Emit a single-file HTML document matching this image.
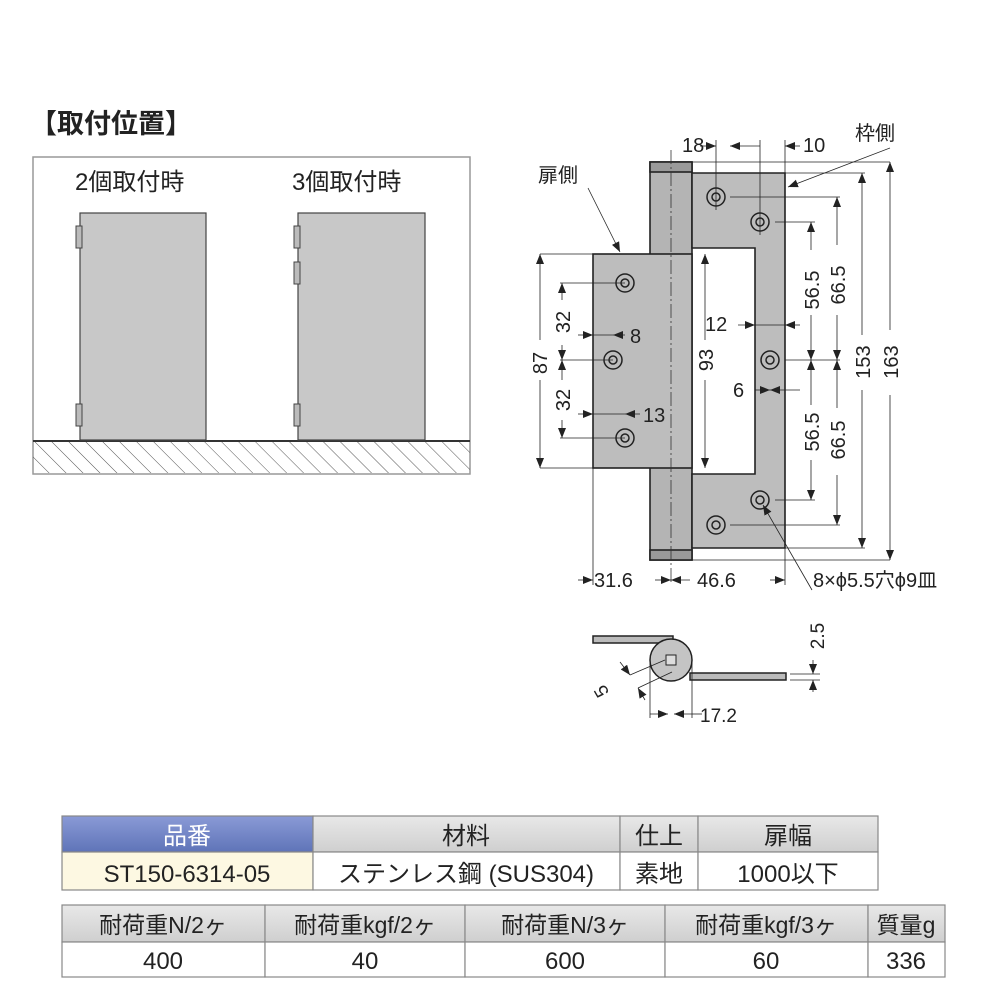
<!DOCTYPE html>
<html><head><meta charset="utf-8"><style>
body{margin:0;background:#fff;width:1000px;height:1000px;overflow:hidden}
svg{position:absolute;left:0;top:0}
text{font-family:"Liberation Sans","Noto Sans CJK JP",sans-serif;fill:#222}
</style></head><body>
<svg width="1000" height="1000" viewBox="0 0 1000 1000">
<defs>
<marker id="a" markerWidth="10" markerHeight="8" refX="10" refY="4" orient="auto-start-reverse" markerUnits="userSpaceOnUse"><path d="M0,0L10,4L0,8z" fill="#222"/></marker>
<pattern id="h" width="12" height="12" patternUnits="userSpaceOnUse" patternTransform="rotate(-45)"><line x1="0" y1="0" x2="0" y2="12" stroke="#555" stroke-width="1"/></pattern>
<linearGradient id="hd" x1="0" y1="0" x2="0" y2="1"><stop offset="0" stop-color="#e8e8e8"/><stop offset="1" stop-color="#cfcfcf"/></linearGradient>
<linearGradient id="bl" x1="0" y1="0" x2="0" y2="1"><stop offset="0" stop-color="#8a9ad6"/><stop offset="1" stop-color="#5f74b8"/></linearGradient>
</defs>
<text x="30" y="133" font-size="27" font-weight="bold">【取付位置】</text>
<rect x="33" y="157" width="437" height="317" fill="none" stroke="#999" stroke-width="1.5"/>
<rect x="33" y="441" width="437" height="32" fill="url(#h)"/>
<line x1="33" y1="441" x2="470" y2="441" stroke="#333" stroke-width="2"/>
<text x="75" y="190" font-size="24">2個取付時</text>
<text x="292" y="190" font-size="24">3個取付時</text>
<rect x="80" y="213" width="126" height="227" fill="#c8c8c8" stroke="#444" stroke-width="1.2"/>
<rect x="76" y="226" width="6" height="22" fill="#bbb" stroke="#444"/>
<rect x="76" y="404" width="6" height="22" fill="#bbb" stroke="#444"/>
<rect x="298" y="213" width="127" height="227" fill="#c8c8c8" stroke="#444" stroke-width="1.2"/>
<rect x="294" y="226" width="6" height="22" fill="#bbb" stroke="#444"/>
<rect x="294" y="262" width="6" height="22" fill="#bbb" stroke="#444"/>
<rect x="294" y="404" width="6" height="22" fill="#bbb" stroke="#444"/>
<g stroke="#222" stroke-width="1.6">
<rect x="650" y="162" width="42" height="398" fill="#b4b4b4"/>
<rect x="650" y="162" width="42" height="10" fill="#9a9a9a"/>
<rect x="650" y="550" width="42" height="10" fill="#9a9a9a"/>
<path d="M692,173H785V548H692V474H755V248H692Z" fill="#bdbdbd"/>
<rect x="593" y="254" width="99" height="214" fill="#bdbdbd"/>
</g>
<line x1="671" y1="150" x2="671" y2="585" stroke="#333" stroke-width="0.8" stroke-dasharray="14,3,2,3"/>
<g fill="#bdbdbd" stroke="#222" stroke-width="1.5">
<circle cx="716" cy="197" r="9"/><circle cx="716" cy="197" r="4"/>
<circle cx="760" cy="222" r="9"/><circle cx="760" cy="222" r="4"/>
<circle cx="770" cy="360" r="9"/><circle cx="770" cy="360" r="4"/>
<circle cx="760" cy="500" r="9"/><circle cx="760" cy="500" r="4"/>
<circle cx="716" cy="525" r="9"/><circle cx="716" cy="525" r="4"/>
<circle cx="625" cy="283" r="9"/><circle cx="625" cy="283" r="4"/>
<circle cx="613" cy="360" r="9"/><circle cx="613" cy="360" r="4"/>
<circle cx="625" cy="438" r="9"/><circle cx="625" cy="438" r="4"/>
</g>
<g stroke="#222" stroke-width="0.8" fill="none">
<line x1="716" y1="140" x2="716" y2="210"/><line x1="760" y1="140" x2="760" y2="235"/><line x1="785" y1="140" x2="785" y2="173"/>
<line x1="692" y1="162" x2="890" y2="162"/><line x1="785" y1="173" x2="865" y2="173"/>
<line x1="730" y1="197" x2="840" y2="197"/><line x1="775" y1="222" x2="815" y2="222"/>
<line x1="785" y1="360" x2="840" y2="360"/>
<line x1="775" y1="500" x2="815" y2="500"/><line x1="730" y1="525" x2="840" y2="525"/>
<line x1="785" y1="548" x2="865" y2="548"/><line x1="692" y1="560" x2="890" y2="560"/>
<line x1="540" y1="254" x2="593" y2="254"/><line x1="540" y1="468" x2="593" y2="468"/>
<line x1="560" y1="283" x2="625" y2="283"/><line x1="560" y1="360" x2="613" y2="360"/><line x1="560" y1="438" x2="625" y2="438"/>
<line x1="593" y1="468" x2="593" y2="585"/><line x1="785" y1="548" x2="785" y2="585"/>
<line x1="700" y1="146" x2="716" y2="146" marker-end="url(#a)"/><line x1="730" y1="146" x2="760" y2="146" marker-start="url(#a)"/>
<line x1="800" y1="146" x2="785" y2="146" marker-end="url(#a)"/>
<line x1="890" y1="162" x2="890" y2="330" marker-start="url(#a)"/><line x1="890" y1="395" x2="890" y2="560" marker-end="url(#a)"/>
<line x1="862" y1="173" x2="862" y2="335" marker-start="url(#a)"/><line x1="862" y1="390" x2="862" y2="548" marker-end="url(#a)"/>
<line x1="837" y1="197" x2="837" y2="245" marker-start="url(#a)"/><line x1="837" y1="315" x2="837" y2="360" marker-end="url(#a)"/>
<line x1="837" y1="360" x2="837" y2="408" marker-start="url(#a)"/><line x1="837" y1="475" x2="837" y2="525" marker-end="url(#a)"/>
<line x1="811" y1="222" x2="811" y2="250" marker-start="url(#a)"/><line x1="811" y1="315" x2="811" y2="360" marker-end="url(#a)"/>
<line x1="811" y1="360" x2="811" y2="405" marker-start="url(#a)"/><line x1="811" y1="460" x2="811" y2="500" marker-end="url(#a)"/>
<line x1="705" y1="254" x2="705" y2="340" marker-start="url(#a)"/><line x1="705" y1="380" x2="705" y2="468" marker-end="url(#a)"/>
<line x1="738" y1="325" x2="755" y2="325" marker-end="url(#a)"/><line x1="800" y1="325" x2="785" y2="325" marker-end="url(#a)"/>
<line x1="755" y1="325" x2="785" y2="325"/>
<line x1="755" y1="390" x2="770" y2="390" marker-end="url(#a)"/><line x1="800" y1="390" x2="770" y2="390" marker-end="url(#a)"/>
<line x1="540" y1="254" x2="540" y2="340" marker-start="url(#a)"/><line x1="540" y1="380" x2="540" y2="468" marker-end="url(#a)"/>
<line x1="562" y1="283" x2="562" y2="300" marker-start="url(#a)"/><line x1="562" y1="345" x2="562" y2="360" marker-end="url(#a)"/>
<line x1="562" y1="360" x2="562" y2="380" marker-start="url(#a)"/><line x1="562" y1="420" x2="562" y2="438" marker-end="url(#a)"/>
<line x1="578" y1="335" x2="593" y2="335" marker-end="url(#a)"/><line x1="625" y1="335" x2="613" y2="335" marker-end="url(#a)"/><line x1="593" y1="335" x2="613" y2="335"/>
<line x1="578" y1="414" x2="593" y2="414" marker-end="url(#a)"/><line x1="640" y1="414" x2="625" y2="414" marker-end="url(#a)"/><line x1="593" y1="414" x2="625" y2="414"/>
<line x1="578" y1="580" x2="593" y2="580" marker-end="url(#a)"/><line x1="655" y1="580" x2="671" y2="580" marker-end="url(#a)"/>
<line x1="690" y1="580" x2="671" y2="580" marker-end="url(#a)"/><line x1="770" y1="580" x2="785" y2="580" marker-end="url(#a)"/>
<line x1="588" y1="188" x2="620" y2="252" marker-end="url(#a)"/>
<line x1="890" y1="148" x2="788" y2="187" marker-end="url(#a)"/>
<line x1="812" y1="590" x2="763" y2="505" marker-end="url(#a)"/>
</g>
<g font-size="20">
<text x="682" y="152">18</text><text x="803" y="152">10</text>
<text x="855" y="140">枠側</text><text x="538" y="182">扉側</text>
<text x="705" y="331">12</text><text x="630" y="343">8</text><text x="643" y="422">13</text>
<text x="733" y="397">6</text>
<text x="594" y="587">31.6</text><text x="697" y="587">46.6</text>
<text x="813" y="587">8×ϕ5.5穴ϕ9皿</text>
</g>
<g font-size="20">
<text transform="translate(547,363) rotate(-90)" text-anchor="middle">87</text>
<text transform="translate(570,322) rotate(-90)" text-anchor="middle">32</text>
<text transform="translate(570,400) rotate(-90)" text-anchor="middle">32</text>
<text transform="translate(713,360) rotate(-90)" text-anchor="middle">93</text>
<text transform="translate(819,290) rotate(-90)" text-anchor="middle">56.5</text>
<text transform="translate(845,285) rotate(-90)" text-anchor="middle">66.5</text>
<text transform="translate(819,432) rotate(-90)" text-anchor="middle">56.5</text>
<text transform="translate(845,440) rotate(-90)" text-anchor="middle">66.5</text>
<text transform="translate(870,362) rotate(-90)" text-anchor="middle">153</text>
<text transform="translate(898,362) rotate(-90)" text-anchor="middle">163</text>
</g>
<g stroke="#222" stroke-width="1.5">
<rect x="593" y="636" width="80" height="7" fill="#bbb"/>
<rect x="690" y="673" width="96" height="7" fill="#bbb"/>
<circle cx="671" cy="660" r="21" fill="#c4c4c4"/>
<rect x="666" y="655" width="10" height="10" fill="#ddd" stroke-width="1"/>
</g>
<g stroke="#222" stroke-width="0.8" fill="none">
<line x1="650" y1="660" x2="650" y2="718"/><line x1="692" y1="660" x2="692" y2="718"/>
<line x1="650" y1="714" x2="668" y2="714" marker-end="url(#a)"/><line x1="692" y1="714" x2="674" y2="714" marker-end="url(#a)"/>
<line x1="692" y1="714" x2="702" y2="714"/>
<line x1="790" y1="674" x2="820" y2="674"/><line x1="790" y1="680" x2="820" y2="680"/>
<line x1="813" y1="660" x2="813" y2="674" marker-end="url(#a)"/><line x1="813" y1="692" x2="813" y2="680" marker-end="url(#a)"/>
<line x1="620" y1="662" x2="630" y2="675" marker-end="url(#a)"/><line x1="645" y1="700" x2="638" y2="688" marker-end="url(#a)"/>
<line x1="630" y1="675" x2="665" y2="660"/><line x1="638" y1="688" x2="672" y2="672"/>
</g>
<text x="700" y="722" font-size="19">17.2</text>
<text transform="translate(824,636) rotate(-90)" font-size="19" text-anchor="middle">2.5</text>
<text transform="translate(607,688) rotate(-120)" font-size="19" text-anchor="middle">5</text>
<g stroke="#888" stroke-width="1.2">
<rect x="62" y="816" width="251" height="36" fill="url(#bl)"/>
<rect x="313" y="816" width="307" height="36" fill="url(#hd)"/>
<rect x="620" y="816" width="78" height="36" fill="url(#hd)"/>
<rect x="698" y="816" width="180" height="36" fill="url(#hd)"/>
<rect x="62" y="852" width="251" height="38" fill="#fdf8e2"/>
<rect x="313" y="852" width="307" height="38" fill="#fff"/>
<rect x="620" y="852" width="78" height="38" fill="#fff"/>
<rect x="698" y="852" width="180" height="38" fill="#fff"/>
</g>
<g font-size="24" text-anchor="middle">
<text x="187" y="844" style="fill:#fff">品番</text><text x="466" y="844">材料</text><text x="659" y="844">仕上</text><text x="788" y="844">扉幅</text>
<text x="187" y="882">ST150-6314-05</text><text x="466" y="882">ステンレス鋼 (SUS304)</text><text x="659" y="882">素地</text><text x="788" y="882">1000以下</text>
</g>
<g stroke="#888" stroke-width="1.2">
<rect x="62" y="905" width="203" height="37" fill="url(#hd)"/>
<rect x="265" y="905" width="200" height="37" fill="url(#hd)"/>
<rect x="465" y="905" width="200" height="37" fill="url(#hd)"/>
<rect x="665" y="905" width="203" height="37" fill="url(#hd)"/>
<rect x="868" y="905" width="77" height="37" fill="url(#hd)"/>
<rect x="62" y="942" width="203" height="35" fill="#fff"/>
<rect x="265" y="942" width="200" height="35" fill="#fff"/>
<rect x="465" y="942" width="200" height="35" fill="#fff"/>
<rect x="665" y="942" width="203" height="35" fill="#fff"/>
<rect x="868" y="942" width="77" height="35" fill="#fff"/>
</g>
<g font-size="23" text-anchor="middle">
<text x="163" y="933">耐荷重N/2ヶ</text><text x="365" y="933">耐荷重kgf/2ヶ</text><text x="565" y="933">耐荷重N/3ヶ</text><text x="766" y="933">耐荷重kgf/3ヶ</text><text x="906" y="933">質量g</text>
<text x="163" y="969" font-size="24">400</text><text x="365" y="969" font-size="24">40</text><text x="565" y="969" font-size="24">600</text><text x="766" y="969" font-size="24">60</text><text x="906" y="969" font-size="24">336</text>
</g>
</svg>
</body></html>
